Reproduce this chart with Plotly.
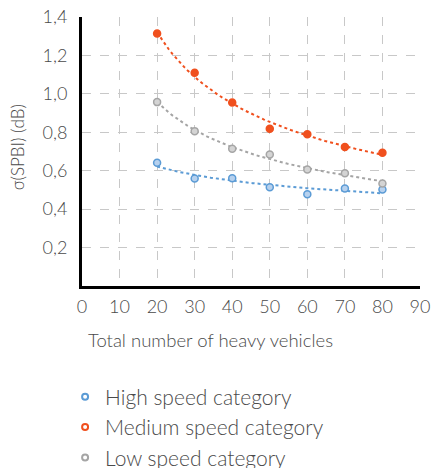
import numpy as np
import plotly.graph_objects as go

x_vals = [20, 30, 40, 50, 60, 70, 80]
high_speed = [0.641, 0.559, 0.561, 0.514, 0.478, 0.507, 0.502]
medium_speed = [1.314, 1.110, 0.955, 0.818, 0.790, 0.724, 0.694]
low_speed = [0.957, 0.806, 0.714, 0.684, 0.606, 0.587, 0.533]
series_names = ["High speed category", "Medium speed category", "Low speed category"]
y_tick_vals = [0.2, 0.4, 0.6, 0.8, 1.0, 1.2, 1.4]
y_tick_text = ["0,2", "0,4", "0,6", "0,8", "1,0", "1,2", "1,4"]

colors = ["#5B9BD5", "#F0501E", "#A5A5A5"]
fills = ["#B7D1EE", "#F0501E", "#D4D4D4"]
series = [high_speed, medium_speed, low_speed]

FONT = "Lato"
TXT = "#4A4A4A"
W = 300

fig = go.Figure()
xs = np.array(x_vals, dtype=float)
xfit = np.linspace(xs.min(), xs.max(), 60)
for vals, col in zip(series, colors):
    b, a = np.polyfit(np.log(xs), np.log(np.array(vals)), 1)
    yfit = np.exp(a) * xfit ** b
    fig.add_trace(go.Scatter(x=xfit, y=yfit, mode="lines",
                             line=dict(color=col, width=2, dash="dot"),
                             showlegend=False, hoverinfo="skip"))
for vals, col, fc in zip(series, colors, fills):
    fig.add_trace(go.Scatter(x=x_vals, y=vals, mode="markers",
                             marker=dict(size=7, color=fc, line=dict(color=col, width=1.5)),
                             showlegend=False))
for name, col in zip(series_names, colors):
    fig.add_trace(go.Scatter(x=[None], y=[None], mode="markers", name=name,
                             marker=dict(size=6, color="white", line=dict(color=col, width=2))))

fig.update_layout(
    width=433, height=468,
    margin=dict(l=82, r=13, t=17, b=182, autoexpand=False),
    paper_bgcolor="white", plot_bgcolor="white",
    font=dict(family=FONT, color=TXT, size=18, weight=W),
    legend=dict(x=-0.05, xanchor="left", y=-0.337, yanchor="top",
                font=dict(size=21, color=TXT, family=FONT, weight=W),
                tracegroupgap=0, itemwidth=30),
    annotations=[
        dict(text="Total number of heavy vehicles", xref="paper", yref="paper",
             x=0.379, y=-0.2, xanchor="center", yanchor="middle", showarrow=False,
             font=dict(size=18.5, color=TXT, family=FONT, weight=W)),
        dict(text="σ(SPBI) (dB)", xref="paper", yref="paper",
             x=-0.19, y=0.515, xanchor="center", yanchor="middle", showarrow=False,
             textangle=-90, font=dict(size=17, color=TXT, family=FONT, weight=W)),
    ],
)
fig.update_xaxes(range=[0, 90], dtick=10, tick0=0, showgrid=True,
                 gridcolor="#C8C8C8", griddash="dash", gridwidth=1,
                 showline=True, linecolor="black", linewidth=3, zeroline=False,
                 ticks="", tickfont=dict(size=18, color=TXT, weight=W), ticklabelstandoff=2)
fig.update_yaxes(range=[0, 1.4], tickvals=y_tick_vals, ticktext=y_tick_text,
                 showgrid=True, gridcolor="#C8C8C8", griddash="dash", gridwidth=1,
                 showline=True, linecolor="black", linewidth=3, zeroline=False,
                 ticks="", tickfont=dict(size=18, color=TXT, weight=W), ticklabelstandoff=8)

fig.write_html("out.html")
